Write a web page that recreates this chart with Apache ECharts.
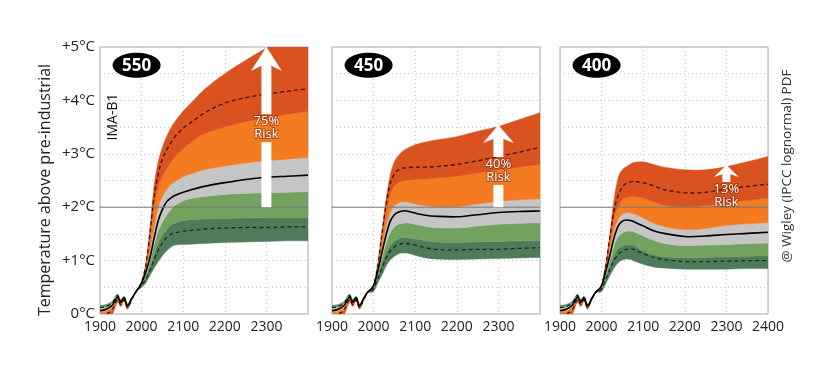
<!DOCTYPE html>
<html><head><meta charset="utf-8">
<script src="https://cdn.jsdelivr.net/npm/echarts@6/dist/echarts.min.js"></script>
<style>html,body{margin:0;padding:0;background:#fff}#c{width:827px;height:386px}</style>
</head><body><div id="c"></div>
<script>
const years = [1900, 1915, 1930, 1942, 1950, 1958, 1966, 1975, 1985, 2000, 2010, 2020, 2030, 2040, 2050, 2060, 2070, 2080, 2100, 2125, 2150, 2200, 2250, 2300, 2350, 2400];
const xTicks = [1900, 2000, 2100, 2200, 2300, 2400];
const yTicks = [0, 1, 2, 3, 4, 5];
const panelNames = ['550', '450', '400'];
const riskLabels = ['75%', '40%', '13%'];

// historical part (1900-1985), shared
const hist_b5 = [-0.15, -0.1, 0.0, 0.22, 0.14, 0.24, 0.09, 0.24, 0.4];
const hist_b4 = [-0.05, -0.02, 0.07, 0.26, 0.17, 0.26, 0.11, 0.25, 0.4];
const hist_hi = [-0.02, 0.0, 0.09, 0.27, 0.18, 0.27, 0.12, 0.25, 0.4];
const hist_b3 = [0.03, 0.05, 0.13, 0.3, 0.2, 0.28, 0.13, 0.26, 0.4];
const hist_mid = [0.06, 0.09, 0.17, 0.32, 0.22, 0.3, 0.15, 0.27, 0.4];
const hist_b2 = [0.1, 0.12, 0.2, 0.34, 0.24, 0.31, 0.16, 0.28, 0.4];
const hist_b1 = [0.13, 0.15, 0.22, 0.35, 0.25, 0.32, 0.17, 0.28, 0.4];
const hist_lo = [0.12, 0.14, 0.21, 0.35, 0.24, 0.31, 0.16, 0.28, 0.4];
const hist_b0 = [0.16, 0.18, 0.24, 0.37, 0.27, 0.33, 0.19, 0.29, 0.4];

// 550 ppm (2000..2400)
const p550_b5 = [0.62, 0.95, 1.6, 2.4, 2.85, 3.12, 3.32, 3.48, 3.6, 3.8, 4.0, 4.2, 4.5, 4.75, 4.98, 5.2, 5.4];
const p550_hi = [0.6, 0.9, 1.5, 2.2, 2.62, 2.9, 3.07, 3.2, 3.32, 3.48, 3.62, 3.76, 3.95, 4.05, 4.12, 4.17, 4.22];
const p550_b4 = [0.6, 0.88, 1.4, 2.0, 2.38, 2.58, 2.72, 2.84, 2.94, 3.1, 3.25, 3.37, 3.5, 3.6, 3.67, 3.74, 3.79];
const p550_b3 = [0.59, 0.82, 1.18, 1.62, 2.0, 2.2, 2.33, 2.42, 2.48, 2.57, 2.64, 2.7, 2.77, 2.83, 2.87, 2.9, 2.93];
const p550_mid = [0.58, 0.78, 1.05, 1.42, 1.75, 1.96, 2.1, 2.17, 2.22, 2.28, 2.34, 2.39, 2.46, 2.52, 2.56, 2.58, 2.6];
const p550_b2 = [0.57, 0.74, 0.98, 1.3, 1.55, 1.72, 1.85, 1.95, 2.03, 2.12, 2.17, 2.2, 2.24, 2.26, 2.27, 2.28, 2.29];
const p550_b1 = [0.55, 0.68, 0.88, 1.12, 1.33, 1.47, 1.58, 1.66, 1.7, 1.75, 1.77, 1.78, 1.79, 1.8, 1.8, 1.8, 1.8];
const p550_lo = [0.54, 0.65, 0.82, 1.02, 1.2, 1.33, 1.43, 1.49, 1.52, 1.55, 1.57, 1.59, 1.61, 1.62, 1.62, 1.63, 1.63];
const p550_b0 = [0.5, 0.58, 0.72, 0.86, 0.98, 1.09, 1.18, 1.25, 1.29, 1.3, 1.31, 1.32, 1.34, 1.35, 1.36, 1.37, 1.37];

// 450 ppm
const p450_b5 = [0.55, 0.96, 1.55, 2.15, 2.6, 2.85, 2.97, 3.05, 3.1, 3.17, 3.22, 3.26, 3.32, 3.42, 3.51, 3.64, 3.77];
const p450_hi = [0.54, 0.9, 1.5, 2.05, 2.45, 2.62, 2.7, 2.73, 2.74, 2.75, 2.75, 2.76, 2.8, 2.87, 2.95, 3.03, 3.12];
const p450_b4 = [0.53, 0.86, 1.4, 1.9, 2.25, 2.4, 2.46, 2.49, 2.51, 2.52, 2.53, 2.55, 2.58, 2.64, 2.7, 2.75, 2.8];
const p450_b3 = [0.52, 0.82, 1.25, 1.65, 1.9, 2.03, 2.08, 2.1, 2.1, 2.06, 2.03, 2.01, 2.01, 2.06, 2.11, 2.14, 2.16];
const p450_mid = [0.53, 0.8, 1.15, 1.48, 1.74, 1.86, 1.91, 1.93, 1.93, 1.89, 1.85, 1.83, 1.82, 1.86, 1.9, 1.92, 1.93];
const p450_b2 = [0.5, 0.76, 1.05, 1.33, 1.52, 1.63, 1.68, 1.7, 1.71, 1.68, 1.64, 1.62, 1.61, 1.65, 1.68, 1.7, 1.71];
const p450_b1 = [0.48, 0.7, 0.95, 1.15, 1.28, 1.36, 1.41, 1.43, 1.43, 1.41, 1.37, 1.35, 1.34, 1.35, 1.36, 1.37, 1.37];
const p450_lo = [0.47, 0.66, 0.86, 1.05, 1.18, 1.26, 1.3, 1.32, 1.32, 1.29, 1.24, 1.21, 1.2, 1.21, 1.21, 1.23, 1.24];
const p450_b0 = [0.42, 0.58, 0.73, 0.9, 1.01, 1.08, 1.13, 1.14, 1.14, 1.1, 1.05, 1.03, 1.02, 1.03, 1.04, 1.05, 1.06];

// 400 ppm
const p400_b5 = [0.55, 0.95, 1.5, 2.15, 2.55, 2.7, 2.76, 2.81, 2.84, 2.85, 2.8, 2.75, 2.7, 2.7, 2.76, 2.85, 2.95];
const p400_hi = [0.54, 0.9, 1.45, 1.95, 2.22, 2.38, 2.45, 2.48, 2.48, 2.46, 2.4, 2.33, 2.27, 2.28, 2.34, 2.39, 2.43];
const p400_b4 = [0.53, 0.86, 1.35, 1.8, 2.02, 2.14, 2.18, 2.2, 2.2, 2.17, 2.1, 2.04, 2.01, 2.03, 2.08, 2.13, 2.17];
const p400_b3 = [0.52, 0.82, 1.22, 1.58, 1.78, 1.87, 1.9, 1.89, 1.87, 1.8, 1.7, 1.64, 1.58, 1.6, 1.66, 1.69, 1.71];
const p400_mid = [0.53, 0.8, 1.1, 1.43, 1.65, 1.74, 1.76, 1.75, 1.72, 1.65, 1.56, 1.51, 1.45, 1.46, 1.49, 1.51, 1.53];
const p400_b2 = [0.5, 0.75, 1.0, 1.28, 1.45, 1.52, 1.55, 1.55, 1.53, 1.46, 1.38, 1.32, 1.28, 1.29, 1.3, 1.32, 1.33];
const p400_b1 = [0.48, 0.69, 0.9, 1.1, 1.22, 1.27, 1.3, 1.3, 1.28, 1.18, 1.11, 1.07, 1.05, 1.06, 1.07, 1.08, 1.09];
const p400_lo = [0.47, 0.65, 0.84, 1.0, 1.12, 1.18, 1.21, 1.22, 1.2, 1.13, 1.06, 1.02, 0.98, 0.98, 0.99, 1.0, 1.0];
const p400_b0 = [0.42, 0.57, 0.72, 0.86, 0.96, 1.01, 1.03, 1.02, 0.99, 0.93, 0.88, 0.86, 0.84, 0.84, 0.84, 0.85, 0.85];

// annotation anchors (data coordinates)
const riskArrowYear = 2300;
const riskArrowTop = [5.0, 3.54, 2.79];
const riskLabelY = [3.48, 2.68, 2.21];
const thresholdT = 2;

const panels = [
  {b0: p550_b0, b1: p550_b1, b2: p550_b2, b3: p550_b3, b4: p550_b4, b5: p550_b5, lo: p550_lo, mid: p550_mid, hi: p550_hi},
  {b0: p450_b0, b1: p450_b1, b2: p450_b2, b3: p450_b3, b4: p450_b4, b5: p450_b5, lo: p450_lo, mid: p450_mid, hi: p450_hi},
  {b0: p400_b0, b1: p400_b1, b2: p400_b2, b3: p400_b3, b4: p400_b4, b5: p400_b5, lo: p400_lo, mid: p400_mid, hi: p400_hi}
];
const hist = {b0: hist_b0, b1: hist_b1, b2: hist_b2, b3: hist_b3, b4: hist_b4, b5: hist_b5, lo: hist_lo, mid: hist_mid, hi: hist_hi};
const bandKeys = ['b0', 'b1', 'b2', 'b3', 'b4', 'b5'];
const bandColors = ['#4e7c5a', '#73a15e', '#c5c5c5', '#f57b21', '#d9521f'];
const lineKeys = ['lo', 'hi', 'mid'];
const lineStyles = [
  {stroke: '#1c2a1c', lineWidth: 1.3, lineDash: [4, 3]},
  {stroke: '#3a1208', lineWidth: 1.3, lineDash: [4, 3]},
  {stroke: '#000', lineWidth: 1.6}
];

const FONT = '"Open Sans", "Noto Sans", sans-serif';
const gridLefts = [100, 332, 560];
const grids = gridLefts.map(l => ({left: l, top: 47, width: 208, height: 267, show: true, borderColor: '#aaa', borderWidth: 1, backgroundColor: 'transparent'}));

const xAxes = [0, 1, 2].map(i => ({
  type: 'value', gridIndex: i, min: 1900, max: 2400, interval: 100,
  axisLine: {show: false}, axisTick: {show: false},
  axisLabel: {fontFamily: FONT, fontSize: 14, color: '#222', margin: 6,
    formatter: v => (i < 2 && v === 2400) ? '' : (xTicks.includes(v) ? String(v) : '')},
  splitLine: {show: true, lineStyle: {color: '#c8c8c8', type: [1, 3], width: 1}}
}));
const yAxes = [0, 1, 2].map(i => ({
  type: 'value', gridIndex: i, min: 0, max: 5, interval: 0.5,
  axisLine: {show: false}, axisTick: {show: false},
  axisLabel: {show: i === 0, fontFamily: FONT, fontSize: 15, color: '#222', margin: 5,
    formatter: v => yTicks.includes(v) ? (v === 0 ? '0°C' : '+' + v + '°C') : ''},
  splitLine: {show: true, lineStyle: {color: '#c8c8c8', type: [1, 3], width: 1}}
}));

// monotone-in-x cubic Hermite path through pixel points
function spline(pts, cmd) {
  const n = pts.length;
  const m = pts.map((p, i) => {
    const a = pts[Math.max(i - 1, 0)], b = pts[Math.min(i + 1, n - 1)];
    return (b[1] - a[1]) / (b[0] - a[0]);
  });
  let d = cmd + pts[0][0].toFixed(2) + ' ' + pts[0][1].toFixed(2);
  for (let i = 0; i < n - 1; i++) {
    const p1 = pts[i], p2 = pts[i + 1], h = p2[0] - p1[0];
    const c1 = [p1[0] + h / 3, p1[1] + m[i] * h / 3];
    const c2 = [p2[0] - h / 3, p2[1] - m[i + 1] * h / 3];
    d += 'C' + c1[0].toFixed(2) + ' ' + c1[1].toFixed(2) + ' ' + c2[0].toFixed(2) + ' ' + c2[1].toFixed(2) + ' ' + p2[0].toFixed(2) + ' ' + p2[1].toFixed(2);
  }
  return d;
}

const series = [];
panels.forEach((p, i) => {
  const full = k => hist[k].concat(p[k]);
  series.push({
    type: 'custom', xAxisIndex: i, yAxisIndex: i, silent: true, z: 2,
    data: [[0], [1], [2], [3], [4], [5], [6], [7]],
    renderItem: (params, api) => {
      const k = api.value(0);
      const cs = params.coordSys;
      const toPts = arr => years.map((y, j) => api.coord([y, arr[j]]));
      let el;
      if (k < 5) {
        const top = toPts(full(bandKeys[k + 1]));
        const bot = toPts(full(bandKeys[k])).reverse();
        el = {type: 'path', shape: {pathData: spline(top, 'M') + spline(bot, 'L') + 'Z'},
          style: {fill: bandColors[k], stroke: bandColors[k], lineWidth: 0.5}};
      } else {
        const pts = toPts(full(lineKeys[k - 5]));
        el = {type: 'path', shape: {pathData: spline(pts, 'M')},
          style: Object.assign({fill: null}, lineStyles[k - 5])};
      }
      return {type: 'group', children: [el],
        clipPath: {type: 'rect', shape: {x: cs.x, y: cs.y, width: cs.width, height: cs.height}}};
    }
  });
  series.push({
    type: 'line', xAxisIndex: i, yAxisIndex: i, symbol: 'none', silent: true, z: 5,
    data: [[1900, thresholdT], [2400, thresholdT]],
    lineStyle: {color: '#777', width: 1}
  });
});

const chart = echarts.init(document.getElementById('c'), null, {renderer: 'canvas'});
chart.setOption({animation: false, grid: grids, xAxis: xAxes, yAxis: yAxes, series: series});

const px = (i, x, y) => chart.convertToPixel({gridIndex: i}, [x, y]);
const g = [];
g.push({type: 'text', x: 45, y: 190, rotation: Math.PI / 2, z: 100,
  style: {text: 'Temperature above pre-industrial', font: '16px ' + FONT, fill: '#222', align: 'center', verticalAlign: 'middle'}});
g.push({type: 'text', x: 787, y: 166, rotation: Math.PI / 2, z: 100,
  style: {text: '@ Wigley (IPCC lognormal) PDF', font: '13.5px ' + FONT, fill: '#333', align: 'center', verticalAlign: 'middle'}});
const ima = px(0, 1931, 3.69);
g.push({type: 'text', x: ima[0], y: ima[1], rotation: Math.PI / 2, z: 100,
  style: {text: 'IMA-B1', font: '14px ' + FONT, fill: '#111', align: 'center', verticalAlign: 'middle'}});
const headSizes = [[15.5, 24, 5], [15.5, 18, 5], [12.5, 12, 4]];
panelNames.forEach((name, i) => {
  const b = px(i, 1988, 4.66);
  g.push({type: 'ellipse', z: 100, shape: {cx: b[0], cy: b[1], rx: 24, ry: 12.5}, style: {fill: '#000'}});
  g.push({type: 'text', x: b[0], y: b[1] + 1, z: 101,
    style: {text: name, font: 'bold 17px ' + FONT, fill: '#fff', align: 'center', verticalAlign: 'middle'}});
  const t = px(i, riskArrowYear, riskArrowTop[i]);
  const bt = px(i, riskArrowYear, thresholdT);
  const l = px(i, riskArrowYear, riskLabelY[i]);
  const gapTop = l[1] - 14, gapBot = l[1] + 14;
  const [hw, hh, sw] = headSizes[i];
  const cx = t[0], ty = t[1];
  g.push({type: 'polygon', z: 100, shape: {points: [
    [cx, ty], [cx + hw, ty + hh], [cx + sw, ty + hh * 0.78], [cx + sw, gapTop],
    [cx - sw, gapTop], [cx - sw, ty + hh * 0.78], [cx - hw, ty + hh]]}, style: {fill: '#fff'}});
  if (gapBot < bt[1]) {
    g.push({type: 'rect', z: 100, shape: {x: cx - sw, y: gapBot, width: sw * 2, height: bt[1] - gapBot}, style: {fill: '#fff'}});
  }
  g.push({type: 'text', x: l[0], y: l[1], z: 102,
    style: {text: riskLabels[i] + '\nRisk', font: '13px ' + FONT, lineHeight: 13, fill: '#fff', align: 'center', verticalAlign: 'middle',
      stroke: 'rgba(130,40,5,0.6)', lineWidth: 2}});
});
chart.setOption({graphic: g});
</script></body></html>
